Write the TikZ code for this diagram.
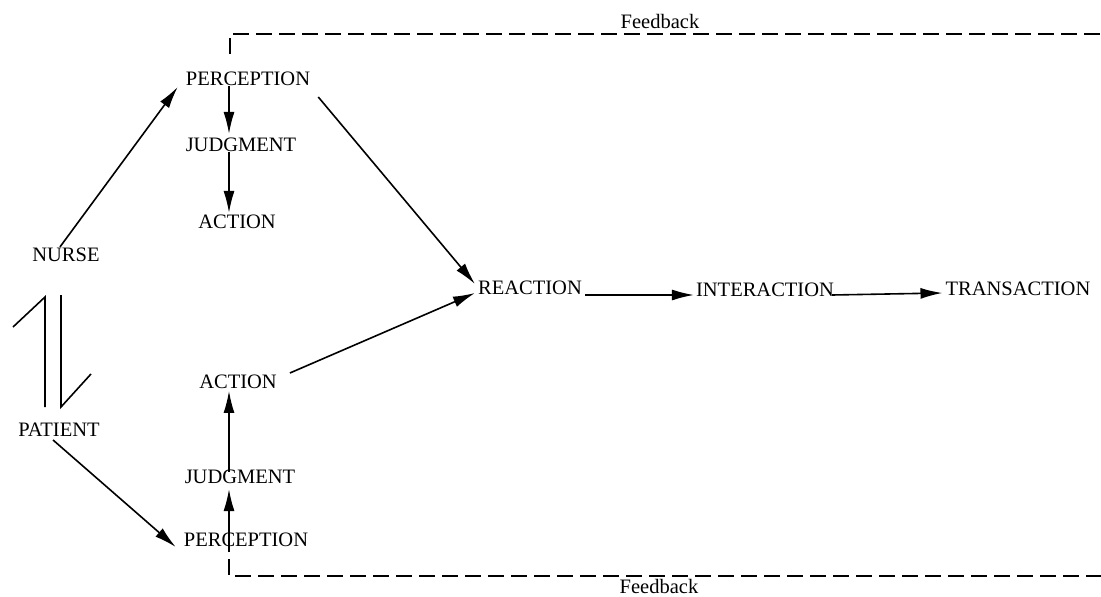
\documentclass[tikz,border=0pt]{standalone}
\usepackage{fontspec}
\setmainfont{Liberation Serif}
\usetikzlibrary{arrows.meta,calc}
\begin{document}
\begin{tikzpicture}[x=1pt,y=-1pt,
  lbl/.style={inner sep=0pt,font=\fontsize{20.5}{24}\selectfont},
  arr/.style={line width=1.6pt,-{Latex[length=22pt,width=11pt]}},
  fb/.style={line width=1.8pt,dash pattern=on 16pt off 7pt},
  harp/.style={line width=1.6pt}]
\useasboundingbox (0,0) rectangle (1101,597);
% nodes
\node[lbl] (fbt) at (660,21) {Feedback};
\node[lbl] (pt) at (248,79) {PERCEPTION};
\node[lbl] (jt) at (241,145) {JUDGMENT};
\node[lbl] (at) at (237,222) {ACTION};
\node[lbl] (nurse) at (66,255) {NURSE};
\node[lbl] (patient) at (59,430) {PATIENT};
\node[lbl] (ab) at (238,382) {ACTION};
\node[lbl] (jb) at (240,477) {JUDGMENT};
\node[lbl] (pb) at (246,540) {PERCEPTION};
\node[lbl] (re) at (530,288) {REACTION};
\node[lbl] (in) at (765,290) {INTERACTION};
\node[lbl] (tr) at (1018,289) {TRANSACTION};
\node[lbl] (fbb) at (659,586) {Feedback};
% helper coordinates
\coordinate (vx) at (229,0);
\coordinate (fbtl) at (230,34);
\coordinate (fbtr) at (1101,34);
\coordinate (fbbl) at (229,576);
\coordinate (fbbr) at (1101,576);
% feedback loops
\draw[fb] ($(pt.north -| fbtl)+(0,-18)$) -- (fbtl) -- (fbtr);
\draw[fb] ($(pb.south -| fbbl)+(0,12)$) -- (fbbl) -- (fbbr);
% vertical arrows
\draw[arr] (pt.south -| vx) -- ($(jt.north -| vx)+(0,-4)$);
\draw[arr] (jt.south -| vx) -- ($(at.north -| vx)+(0,-2)$);
\draw[arr] ($(pb.south -| vx)+(0,5)$) -- ($(jb.south -| vx)+(0,5)$);
\draw[arr] ($(jb.north -| vx)+(0,2)$) -- ($(ab.north -| vx)+(0,16)$);
% diagonal arrows
\draw[arr] ($(nurse.north)+(-6,-1)$) -- ($(pt.west)+(-8,8)$);
\draw[arr] ($(patient.south)+(-6,3)$) -- ($(pb.west)+(-8,7)$);
\draw[arr] ($(pt.east)+(8,18)$) -- ($(re.west)+(-3,-4)$);
\draw[arr] ($(ab.east)+(13,-9)$) -- ($(re.west)+(-3,5)$);
% horizontal arrows
\draw[arr] ($(re.east)+(3,7)$) -- ($(in.west)+(-2,5)$);
\draw[arr] ($(in.east)+(-2,5)$) -- ($(tr.west)+(-3,4)$);
% harpoons between NURSE and PATIENT
\coordinate (h1b) at (45,407);
\coordinate (h1t) at (45,297);
\coordinate (h1e) at (13,327);
\coordinate (h2t) at (61,295);
\coordinate (h2b) at (61,407);
\coordinate (h2e) at (91,374);
\draw[harp] (h1b) -- (h1t) -- (h1e);
\draw[harp] (h2t) -- (h2b) -- (h2e);
\end{tikzpicture}
\end{document}
